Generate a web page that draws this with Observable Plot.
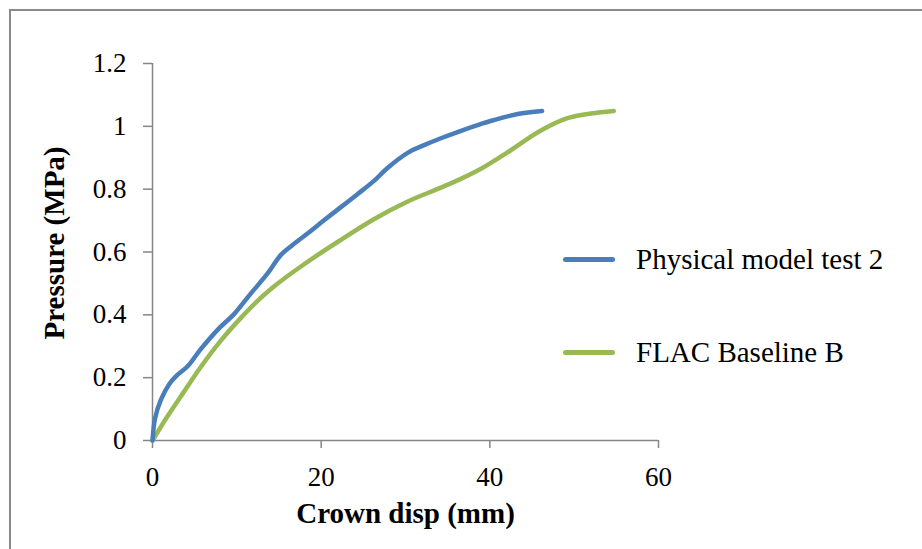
<!DOCTYPE html>
<html>
<head>
<meta charset="utf-8">
<script src="https://cdn.jsdelivr.net/npm/d3@7"></script>
<script src="https://cdn.jsdelivr.net/npm/@observablehq/plot@0.6"></script>
<style>
  html, body { margin: 0; padding: 0; background: #fff; }
  #wrap { position: relative; width: 922px; height: 549px; overflow: hidden; background: #fff; }
  #border { position: absolute; left: 9px; top: 9px; width: 940px; height: 600px;
            border-left: 2px solid #8a8a8a; border-top: 2px solid #8a8a8a; }
  #chart { position: absolute; left: 0; top: 0; }
  #legend { position: absolute; left: 563px; top: 0; font-family: "Liberation Serif", "Times New Roman", serif; font-size: 29px; color: #000; }
  .row { position: absolute; left: 0; height: 40px; display: flex; align-items: center; white-space: nowrap; }
  .sw { width: 52px; height: 5px; border-radius: 2.5px; }
  .lab { margin-left: 21px; line-height: 40px; }
</style>
</head>
<body>
<div id="wrap">
  <div id="border"></div>
  <div id="chart"></div>
  <div id="legend"></div>
</div>
<script>
// ---- data ----
const seriesNames = ["Physical model test 2", "FLAC Baseline B"];
const seriesColors = ["#4a7ebb", "#98b954"];

const physX = [0, 0.3, 1.0, 2.0, 2.8, 4.2, 5.7, 8.0, 9.7, 11.6, 13.6, 15.2, 16.5, 18.3, 20.3, 22.3, 24.3, 26.3, 27.8, 30.4, 32.2, 34.2, 36.5, 38.9, 40.1, 43.3, 46.2];
const physY = [0, 0.07, 0.13, 0.18, 0.205, 0.237, 0.29, 0.36, 0.403, 0.466, 0.53, 0.59, 0.62, 0.657, 0.70, 0.742, 0.784, 0.827, 0.866, 0.918, 0.94, 0.962, 0.985, 1.007, 1.017, 1.039, 1.049];

const flacX = [0, 1.7, 3.7, 5.7, 8.1, 10.4, 12.4, 14.4, 18.3, 22.3, 26.3, 30.2, 34.2, 36.5, 38.9, 42.1, 46.0, 49.2, 52.0, 54.7];
const flacY = [0, 0.074, 0.154, 0.233, 0.318, 0.388, 0.443, 0.49, 0.567, 0.638, 0.705, 0.76, 0.805, 0.832, 0.864, 0.917, 0.986, 1.026, 1.041, 1.049];

const xTicks = [0, 20, 40, 60];
const yTicks = [0, 0.2, 0.4, 0.6, 0.8, 1, 1.2];
const xLabel = "Crown disp (mm)";
const yLabel = "Pressure (MPa)";

// ---- build ----
const physData = physX.map((x, i) => ({x, y: physY[i]}));
const flacData = flacX.map((x, i) => ({x, y: flacY[i]}));
const axisGray = "#868686";

const chart = Plot.plot({
  width: 922,
  height: 549,
  marginLeft: 152,
  marginRight: 264,
  marginTop: 63,
  marginBottom: 109,
  style: { fontFamily: "Liberation Serif, 'Times New Roman', serif", fontSize: "27px", background: "transparent", color: "#000", overflow: "visible" },
  x: { domain: [0, 60] },
  y: { domain: [0, 1.2] },
  marks: [
    Plot.ruleX([0], { stroke: axisGray, strokeWidth: 1.5 }),
    Plot.ruleY([0], { stroke: axisGray, strokeWidth: 1.5 }),
    Plot.axisX({ ticks: xTicks, tickSize: 8, tickPadding: 18, stroke: axisGray, strokeWidth: 1.5, strokeOpacity: 1, fill: "#000", fontSize: 27, label: null, tickFormat: d => String(d) }),
    Plot.axisY({ ticks: yTicks, tickSize: 9, tickPadding: 17, stroke: axisGray, strokeWidth: 1.5, strokeOpacity: 1, fill: "#000", fontSize: 27, label: null, tickFormat: d => String(d) }),
    Plot.line(flacData, { x: "x", y: "y", stroke: seriesColors[1], strokeWidth: 4.5, curve: "monotone-x", strokeLinecap: "round", strokeLinejoin: "round" }),
    Plot.line(physData, { x: "x", y: "y", stroke: seriesColors[0], strokeWidth: 4.5, curve: "catmull-rom", strokeLinecap: "round", strokeLinejoin: "round" }),
    Plot.text([xLabel], { frameAnchor: "bottom", textAnchor: "middle", lineAnchor: "middle", dy: 73, fontSize: 29, fontWeight: "bold", fill: "#000" }),
    Plot.text([yLabel], { frameAnchor: "left", textAnchor: "middle", lineAnchor: "middle", rotate: -90, dx: -98, dy: -9, fontSize: 29, fontWeight: "bold", fill: "#000" })
  ]
});
document.getElementById("chart").appendChild(chart);

// legend
const legendY = [259, 352];
const legend = document.getElementById("legend");
seriesNames.forEach((name, i) => {
  const row = document.createElement("div");
  row.className = "row";
  row.style.top = (legendY[i] - 20) + "px";
  const sw = document.createElement("div");
  sw.className = "sw";
  sw.style.background = seriesColors[i];
  const lab = document.createElement("span");
  lab.className = "lab";
  lab.textContent = name;
  row.appendChild(sw);
  row.appendChild(lab);
  legend.appendChild(row);
});
</script>
</body>
</html>
